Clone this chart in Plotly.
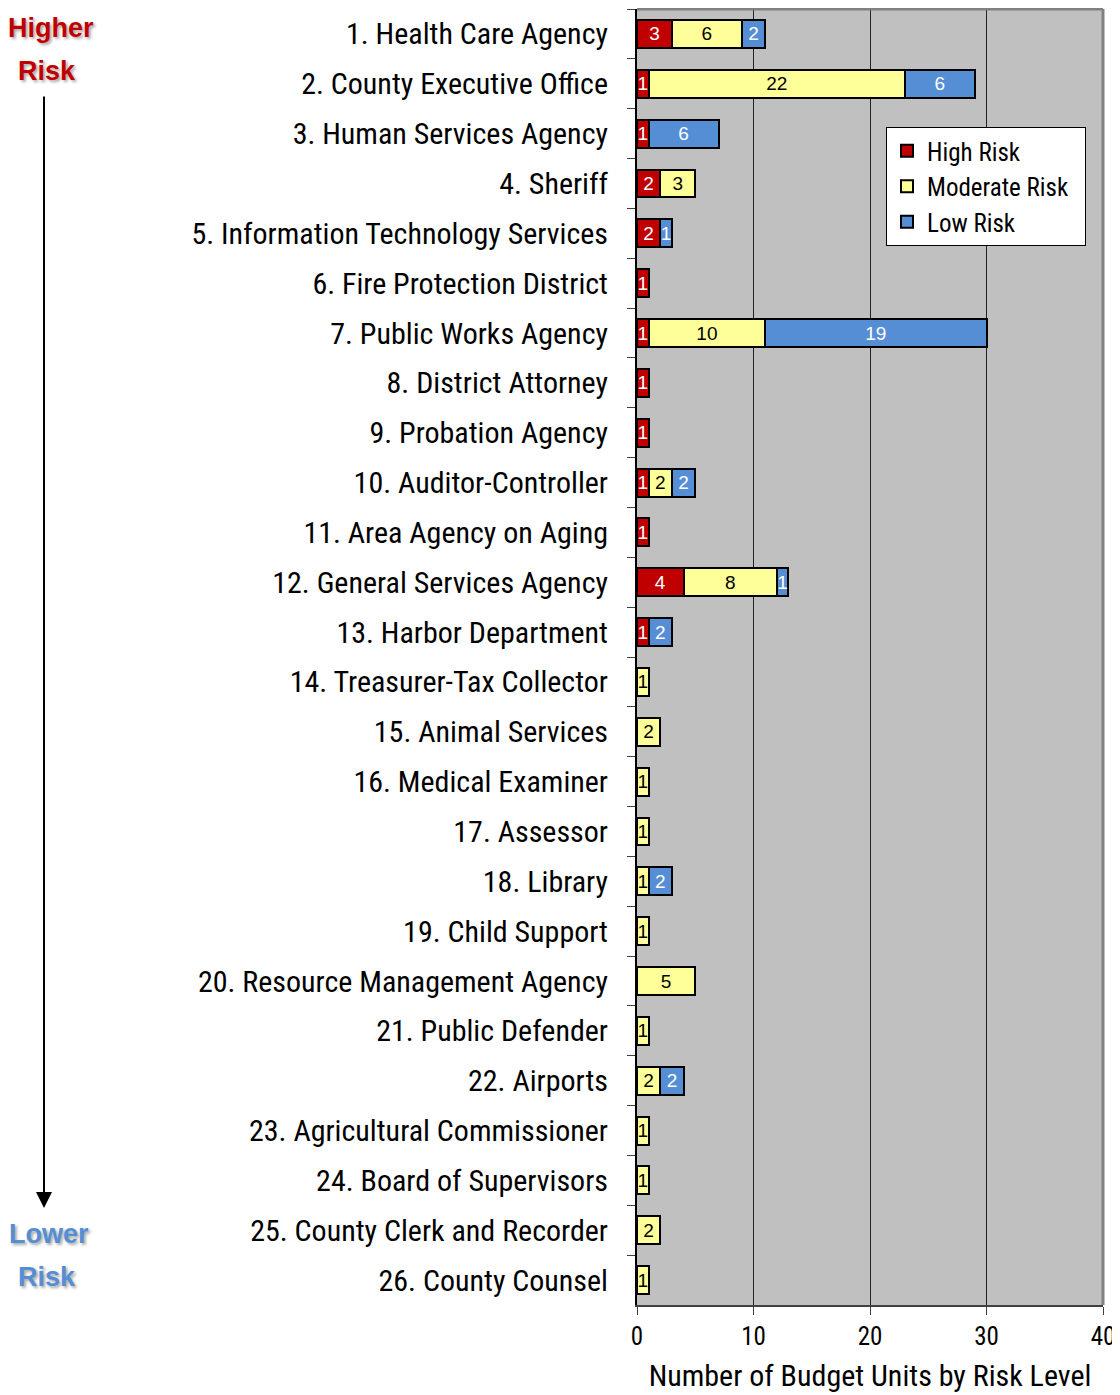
import plotly.graph_objects as go

categories = [
    "1. Health Care Agency", "2. County Executive Office", "3. Human Services Agency",
    "4. Sheriff", "5. Information Technology Services", "6. Fire Protection District",
    "7. Public Works Agency", "8. District Attorney", "9. Probation Agency",
    "10. Auditor-Controller", "11. Area Agency on Aging", "12. General Services Agency",
    "13. Harbor Department", "14. Treasurer-Tax Collector", "15. Animal Services",
    "16. Medical Examiner", "17. Assessor", "18. Library", "19. Child Support",
    "20. Resource Management Agency", "21. Public Defender", "22. Airports",
    "23. Agricultural Commissioner", "24. Board of Supervisors",
    "25. County Clerk and Recorder", "26. County Counsel",
]
high_risk = [3, 1, 1, 2, 2, 1, 1, 1, 1, 1, 1, 4, 1, 0, 0, 0, 0, 0, 0, 0, 0, 0, 0, 0, 0, 0]
moderate_risk = [6, 22, 0, 3, 0, 0, 10, 0, 0, 2, 0, 8, 0, 1, 2, 1, 1, 1, 1, 5, 1, 2, 1, 1, 2, 1]
low_risk = [2, 6, 6, 0, 1, 0, 19, 0, 0, 2, 0, 1, 2, 0, 0, 0, 0, 2, 0, 0, 0, 2, 0, 0, 0, 0]
x_ticks = [0, 10, 20, 30, 40]

series = [
    ("High Risk", high_risk, "#C00000", "white"),
    ("Moderate Risk", moderate_risk, "#FFFF99", "black"),
    ("Low Risk", low_risk, "#558ED5", "white"),
]

NARROW = "Liberation Sans Narrow, Arial Narrow, Roboto Condensed, sans-serif"
ARIAL = "Liberation Sans, Arial, sans-serif"

# page is rendered with an 8px body margin; figure coords = page coords - 8
W, H = 1112, 1387
PL, PT, PR, PB = 629, 1, 1095, 1297   # plot area in figure px
pw, ph = PR - PL, PB - PT


def px(xp):
    return (xp - 8 - PL) / pw


def py(yp):
    return (PB - (yp - 8)) / ph


fig = go.Figure()
for name, vals, color, tcolor in series:
    xs = [v if v else None for v in vals]
    fig.add_trace(go.Bar(
        y=categories, x=xs, name=name + "\u00a0\u00a0", orientation="h",
        marker=dict(color=color, line=dict(color="black", width=2)),
        text=[str(v) if v else "" for v in vals],
        textposition="inside", insidetextanchor="middle",
        constraintext="none",
        textfont=dict(family=ARIAL, size=19, color=tcolor),
        cliponaxis=False,
    ))

fig.update_layout(
    width=W, height=H,
    barmode="stack", bargap=0.44,
    plot_bgcolor="#C0C0C0", paper_bgcolor="white",
    margin=dict(l=PL, r=W - PR, t=PT, b=H - PB),
    font=dict(family=NARROW, color="black"),
    legend=dict(
        x=px(886), y=py(127), xanchor="left", yanchor="top",
        bgcolor="white", bordercolor="black", borderwidth=1,
        font=dict(family=NARROW, size=25, color="black"),
        traceorder="normal", itemwidth=30,
    ),
    uniformtext=dict(mode="show", minsize=10),
)
fig.update_yaxes(
    type="category", autorange="reversed",
    tickson="boundaries", ticks="outside", ticklen=8, tickcolor="#404040",
    tickfont=dict(family=NARROW, size=30, color="black"),
    ticklabelstandoff=21,
    showline=True, linecolor="black", linewidth=2,
    showgrid=False,
)
fig.update_xaxes(
    range=[0, 40], tickvals=x_ticks, ticks="outside", ticklen=8, tickcolor="#404040",
    tickfont=dict(family=NARROW, size=25, color="black"),
    ticklabeloverflow="allow",
    showline=True, linecolor="#404040", linewidth=2,
    showgrid=True, gridcolor="#222222", gridwidth=1,
    zeroline=False,
    title=dict(text="Number of Budget Units by Risk Level",
               font=dict(family=NARROW, size=30, color="black"), standoff=15),
)

# gray frame on top/right of the plot area
fig.add_shape(type="line", xref="paper", yref="paper", x0=0, x1=1, y0=1, y1=1,
              line=dict(color="#808080", width=3), layer="above")
fig.add_shape(type="line", xref="paper", yref="paper", x0=1, x1=1, y0=0, y1=1,
              line=dict(color="#808080", width=3), layer="above")

shadow = "2px 2px 3px rgba(0,0,0,0.35)"
side_labels = [
    ("Higher", 51, 28, "#C00000"),
    ("Risk", 47, 71, "#C00000"),
    ("Lower", 49, 1234, "#558ED5"),
    ("Risk", 47, 1277, "#558ED5"),
]
for txt, xp, yp, col in side_labels:
    fig.add_annotation(xref="paper", yref="paper", x=px(xp), y=py(yp),
                       xanchor="center", yanchor="middle",
                       text="<b>%s</b>" % txt, showarrow=False,
                       font=dict(family=ARIAL, size=27, color=col, shadow=shadow))
# arrow
fig.add_annotation(xref="paper", yref="paper", x=px(44), y=py(1208),
                   ax=0, ay=95 - 1208, text="", showarrow=True,
                   arrowhead=2, arrowsize=1.6, arrowwidth=2, arrowcolor="black")

fig.write_html("out.html")
